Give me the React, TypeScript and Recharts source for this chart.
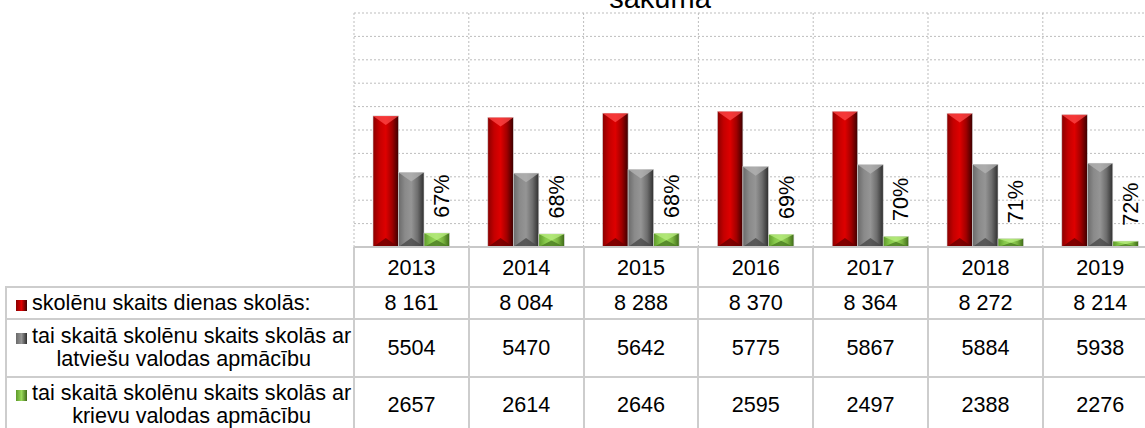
import React from 'react';
import { Bar, BarChart, CartesianGrid, LabelList, XAxis, YAxis } from 'recharts';

const years = ['2013', '2014', '2015', '2016', '2017', '2018', '2019'];
const totalPupils = [8161, 8084, 8288, 8370, 8364, 8272, 8214];
const latvianPupils = [5504, 5470, 5642, 5775, 5867, 5884, 5938];
const russianPupils = [2657, 2614, 2646, 2595, 2497, 2388, 2276];
const latvianShare = ['67%', '68%', '68%', '69%', '70%', '71%', '72%'];
const gridTicks = [2000, 3100, 4200, 5300, 6400, 7500, 8600, 9700, 10800, 11900, 13000];

const titleText = 'sākumā';
const totalLabel = ['skolēnu skaits dienas skolās:'];
const latvianLabel = ['tai skaitā skolēnu skaits skolās ar', 'latviešu valodas apmācību'];
const russianLabel = ['tai skaitā skolēnu skaits skolās ar', 'krievu valodas apmācību'];

const FONT = '"Liberation Sans", Arial, sans-serif';
const FS = 21.6;
const PLOT_LEFT = 354;
const COL_W = 114.8;
const AXIS_Y = 247;
const LINE = '#cdcdcd';

const tones = {
  red: { id: 'gRed', stops: ['#8a0000', '#c40000', '#de0000', '#a00000', '#3c0000'], top: '#ff4a4a', bottom: '#6a0000' },
  grey: { id: 'gGrey', stops: ['#6a6a6a', '#8a8a8a', '#959595', '#6e6e6e', '#2e2e2e'], top: '#b4b4b4', bottom: '#4a4a4a' },
  green: { id: 'gGreen', stops: ['#5e9a2a', '#86c84a', '#98d85a', '#7ab440', '#3e6a18'], top: '#b8ec80', bottom: '#4a7a22' },
};

type Tone = typeof tones.red;

const chartData = years.map((year, i) => ({
  year,
  total: totalPupils[i],
  latvian: latvianPupils[i],
  russian: russianPupils[i],
}));

const withSpaces = (n: number) => String(n).replace(/\B(?=(\d{3})+(?!\d))/g, ' ');

const tableRows = [
  { tone: tones.red, label: totalLabel, values: totalPupils.map(withSpaces), top: 287, height: 32 },
  { tone: tones.grey, label: latvianLabel, values: latvianPupils.map(String), top: 319, height: 58 },
  { tone: tones.green, label: russianLabel, values: russianPupils.map(String), top: 377, height: 56 },
];

const BevelBar = (props: any) => {
  const { x, y, width: w, height: h, tone } = props;
  if (!h || h <= 0) return null;
  const b = Math.min(9, h / 2, w / 2);
  return (
    <g>
      <rect x={x} y={y} width={w} height={h} fill={`url(#${tone.id})`} stroke="#d4d4d4" strokeWidth={0.6} />
      <polygon points={`${x},${y} ${x + w},${y} ${x + w / 2},${y + b}`} fill={tone.top} opacity={0.75} />
      <polygon points={`${x},${y + h} ${x + w},${y + h} ${x + w / 2},${y + h - b}`} fill={tone.bottom} opacity={0.8} />
    </g>
  );
};

const ShareLabel = (props: any) => {
  const { x, y, width, index } = props;
  const cx = x + width / 2 + 5;
  const cy = y - 37;
  return (
    <text
      x={cx}
      y={cy}
      transform={`rotate(-90, ${cx}, ${cy})`}
      textAnchor="middle"
      dominantBaseline="central"
      fontSize={FS}
      fontFamily={FONT}
      fill="#000"
    >
      {latvianShare[index]}
    </text>
  );
};

const YearTick = (props: any) => {
  const { x, y, payload } = props;
  return (
    <text x={x} y={y + 20} textAnchor="middle" dominantBaseline="central" fontSize={FS} fontFamily={FONT} fill="#000">
      {payload.value}
    </text>
  );
};

const Marker = ({ tone }: { tone: Tone }) => (
  <span
    style={{
      display: 'inline-block',
      width: 11,
      height: 11,
      marginRight: 5,
      verticalAlign: -1,
      background: `linear-gradient(90deg, ${tone.stops[0]}, ${tone.stops[2]} 50%, ${tone.stops[4]})`,
    }}
  />
);

const App: React.FC = () => {
  const boundaries = years.map((_, i) => PLOT_LEFT + i * COL_W).concat(PLOT_LEFT + years.length * COL_W);

  return (
    <div
      style={{
        position: 'absolute',
        left: 0,
        top: 0,
        width: 1145,
        height: 428,
        overflow: 'hidden',
        background: '#fff',
        fontFamily: FONT,
        color: '#000',
      }}
    >
      <BarChart
        width={1160}
        height={287}
        data={chartData}
        margin={{ top: 13, right: 2.4, left: PLOT_LEFT, bottom: 0 }}
        barGap={0}
        barSize={25.5}
      >
        <defs>
          {Object.values(tones).map((t) => (
            <linearGradient key={t.id} id={t.id} x1="0" y1="0" x2="1" y2="0">
              <stop offset="0%" stopColor={t.stops[0]} />
              <stop offset="25%" stopColor={t.stops[1]} />
              <stop offset="50%" stopColor={t.stops[2]} />
              <stop offset="75%" stopColor={t.stops[3]} />
              <stop offset="100%" stopColor={t.stops[4]} />
            </linearGradient>
          ))}
        </defs>
        <CartesianGrid
          stroke="#bdbdbd"
          strokeDasharray="2 2"
          horizontalValues={gridTicks}
          verticalCoordinatesGenerator={({ offset }: any) =>
            years.map((_, i) => offset.left + (i * offset.width) / years.length)
          }
        />
        <XAxis
          dataKey="year"
          height={40}
          tickSize={0}
          tickMargin={0}
          tickLine={false}
          axisLine={{ stroke: '#c8c8c8', strokeWidth: 2 }}
          tick={<YearTick />}
          interval={0}
        />
        <YAxis hide domain={[2000, 13000]} ticks={gridTicks} />
        <Bar dataKey="total" isAnimationActive={false} shape={(p: any) => <BevelBar {...p} tone={tones.red} />} />
        <Bar dataKey="latvian" isAnimationActive={false} shape={(p: any) => <BevelBar {...p} tone={tones.grey} />} />
        <Bar dataKey="russian" isAnimationActive={false} shape={(p: any) => <BevelBar {...p} tone={tones.green} />}>
          <LabelList dataKey="russian" content={<ShareLabel />} />
        </Bar>
      </BarChart>

      <svg width={1145} height={20} style={{ position: 'absolute', left: 0, top: 0 }}>
        <text x={660} y={7.5} textAnchor="middle" fontSize={29} fontFamily={FONT} fill="#000">
          {titleText}
        </text>
      </svg>

      {/* data table under the plot */}
      {boundaries.map((bx, i) => (
        <div
          key={`v${i}`}
          style={{ position: 'absolute', left: bx - 1, top: AXIS_Y, width: 2, height: 190, background: LINE }}
        />
      ))}
      <div style={{ position: 'absolute', left: 5, top: 287, width: 2, height: 150, background: LINE }} />
      {tableRows.map((row, r) => (
        <React.Fragment key={r}>
          <div style={{ position: 'absolute', left: 5, top: row.top - 1, width: 1150, height: 2, background: LINE }} />
          <div
            style={{
              position: 'absolute',
              left: 6,
              top: row.top,
              width: 348,
              height: row.height,
              display: 'flex',
              flexDirection: 'column',
              justifyContent: 'center',
              fontSize: FS,
              lineHeight: '22.6px',
              whiteSpace: 'nowrap',
            }}
          >
            <div style={{ paddingLeft: 10 }}>
              <Marker tone={row.tone} />
              {row.label[0]}
            </div>
            {row.label[1] && <div style={{ textAlign: 'right', paddingRight: 43 }}>{row.label[1]}</div>}
          </div>
          {row.values.map((v, i) => (
            <div
              key={i}
              style={{
                position: 'absolute',
                left: PLOT_LEFT + i * COL_W,
                top: row.top,
                width: COL_W,
                height: row.height,
                lineHeight: `${row.height}px`,
                textAlign: 'center',
                fontSize: FS,
              }}
            >
              {v}
            </div>
          ))}
        </React.Fragment>
      ))}
    </div>
  );
};

export default App;
